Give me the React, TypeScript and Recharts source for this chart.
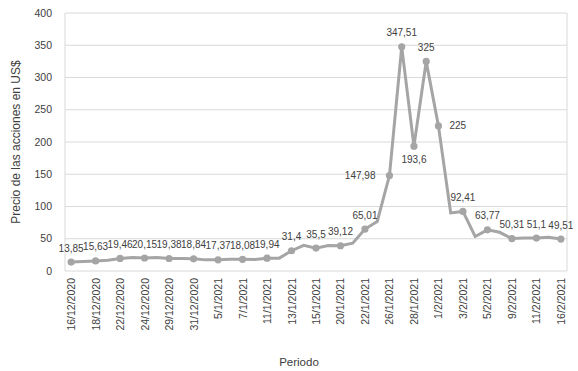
import React from 'react';
import { LineChart, Line, XAxis, YAxis, CartesianGrid, Label } from 'recharts';

const dates = [
  '16/12/2020', '17/12/2020', '18/12/2020', '21/12/2020', '22/12/2020', '23/12/2020', '24/12/2020',
  '28/12/2020', '29/12/2020', '30/12/2020', '31/12/2020',
  '4/1/2021', '5/1/2021', '6/1/2021', '7/1/2021', '8/1/2021',
  '11/1/2021', '12/1/2021', '13/1/2021', '14/1/2021', '15/1/2021',
  '19/1/2021', '20/1/2021', '21/1/2021', '22/1/2021',
  '25/1/2021', '26/1/2021', '27/1/2021', '28/1/2021', '29/1/2021',
  '1/2/2021', '2/2/2021', '3/2/2021', '4/2/2021', '5/2/2021',
  '8/2/2021', '9/2/2021', '10/2/2021', '11/2/2021', '12/2/2021',
  '16/2/2021',
];

const prices = [
  13.85, 14.83, 15.63, 16.55, 19.46, 20.8, 20.15,
  20.99, 19.38, 19.26, 18.84,
  17.25, 17.37, 18.36, 18.08, 17.69,
  19.94, 19.95, 31.4, 39.91, 35.5,
  39.36, 39.12, 43.03, 65.01,
  76.79, 147.98, 347.51, 193.6, 325,
  225, 90, 92.41, 53.5, 63.77,
  60, 50.31, 51.2, 51.1, 52.4,
  49.51,
];

const markedDates = [
  '16/12/2020', '18/12/2020', '22/12/2020', '24/12/2020', '29/12/2020', '31/12/2020',
  '5/1/2021', '7/1/2021', '11/1/2021', '13/1/2021', '15/1/2021', '20/1/2021', '22/1/2021',
  '26/1/2021', '27/1/2021', '28/1/2021', '29/1/2021', '1/2/2021', '3/2/2021', '5/2/2021',
  '9/2/2021', '11/2/2021', '16/2/2021',
];

const tickLabels = [
  '16/12/2020', '18/12/2020', '22/12/2020', '24/12/2020', '29/12/2020', '31/12/2020',
  '5/1/2021', '7/1/2021', '11/1/2021', '13/1/2021', '15/1/2021', '20/1/2021', '22/1/2021',
  '26/1/2021', '28/1/2021', '1/2/2021', '3/2/2021', '5/2/2021', '9/2/2021', '11/2/2021', '16/2/2021',
];

const yTicks = [0, 50, 100, 150, 200, 250, 300, 350, 400];

const labelPlacement: Record<string, 'left' | 'right' | 'bottom'> = {
  '26/1/2021': 'left',
  '28/1/2021': 'bottom',
  '1/2/2021': 'right',
};

const data = dates.map((d, i) => ({ i, date: d, price: prices[i], marked: markedDates.includes(d) }));
const tickIdx = tickLabels.map((t) => dates.indexOf(t));
const boundaries = Array.from({ length: dates.length + 1 }, (_, k) => k - 0.5);
const domain: [number, number] = [-0.5, dates.length - 0.5];

const FONT = '"Liberation Sans", Arial, sans-serif';
const LINE = '#a5a5a5';
const TEXT = '#404040';
const GRID = '#d9d9d9';

const fmt = (v: number) => String(v).replace('.', ',');

const renderDot = (props: any) => {
  const { cx, cy, payload, index } = props;
  if (!payload || !payload.marked) return <g key={`d${index}`} />;
  const pl = labelPlacement[payload.date] ?? 'top';
  let tx = cx;
  let ty = cy - 14;
  let anchor: 'middle' | 'start' | 'end' = 'middle';
  if (pl === 'left') {
    tx = cx - 14;
    ty = cy;
    anchor = 'end';
  } else if (pl === 'right') {
    tx = cx + 11;
    ty = cy;
    anchor = 'start';
  } else if (pl === 'bottom') {
    ty = cy + 13;
  }
  return (
    <g key={`d${index}`}>
      <circle cx={cx} cy={cy} r={3.6} fill={LINE} stroke="none" />
      <text x={tx} y={ty} textAnchor={anchor} dominantBaseline="central" fontSize={10} fill={TEXT} fontFamily={FONT}>
        {fmt(payload.price)}
      </text>
    </g>
  );
};

const XTick = (props: any) => {
  const { x, y, payload } = props;
  return (
    <text
      x={x}
      y={y}
      transform={`rotate(-90 ${x} ${y})`}
      textAnchor="end"
      dominantBaseline="central"
      fontSize={10.5}
      fill={TEXT}
      fontFamily={FONT}
    >
      {dates[payload.value]}
    </text>
  );
};

export default function App() {
  return (
    <div style={{ position: 'absolute', left: 0, top: 0, width: 578, height: 371, background: '#fff' }}>
      <LineChart width={578} height={371} data={data} margin={{ top: 13, right: 11, bottom: 0, left: 0 }}>
        <CartesianGrid xAxisId="marks" stroke={GRID} strokeWidth={1} />
        <XAxis
          xAxisId="marks"
          dataKey="i"
          type="number"
          domain={domain}
          ticks={boundaries}
          allowDecimals
          interval={0}
          tick={false}
          tickLine={{ stroke: GRID }}
          tickSize={4}
          axisLine={{ stroke: GRID }}
          height={0}
        />
        <XAxis
          dataKey="i"
          type="number"
          domain={domain}
          ticks={tickIdx}
          interval={0}
          tick={<XTick />}
          tickLine={false}
          axisLine={false}
          tickSize={0}
          tickMargin={7}
          height={100}
        >
          <Label
            value="Periodo"
            position="insideBottom"
            offset={5}
            dx={-17}
            style={{ fontSize: 11.5, fill: TEXT, fontFamily: FONT }}
          />
        </XAxis>
        <YAxis
          domain={[0, 400]}
          ticks={yTicks}
          interval={0}
          tickLine={false}
          axisLine={false}
          tickSize={0}
          tickMargin={13}
          width={65}
          tick={{ fontSize: 10.5, fill: TEXT, fontFamily: FONT }}
        >
          <Label
            value="Precio de las acciones en US$"
            angle={-90}
            position="insideLeft"
            offset={16}
            style={{ textAnchor: 'middle', fontSize: 12, fill: TEXT, fontFamily: FONT }}
          />
        </YAxis>
        <Line
          type="linear"
          dataKey="price"
          stroke={LINE}
          strokeWidth={3}
          dot={renderDot}
          activeDot={false}
          isAnimationActive={false}
        />
      </LineChart>
    </div>
  );
}
